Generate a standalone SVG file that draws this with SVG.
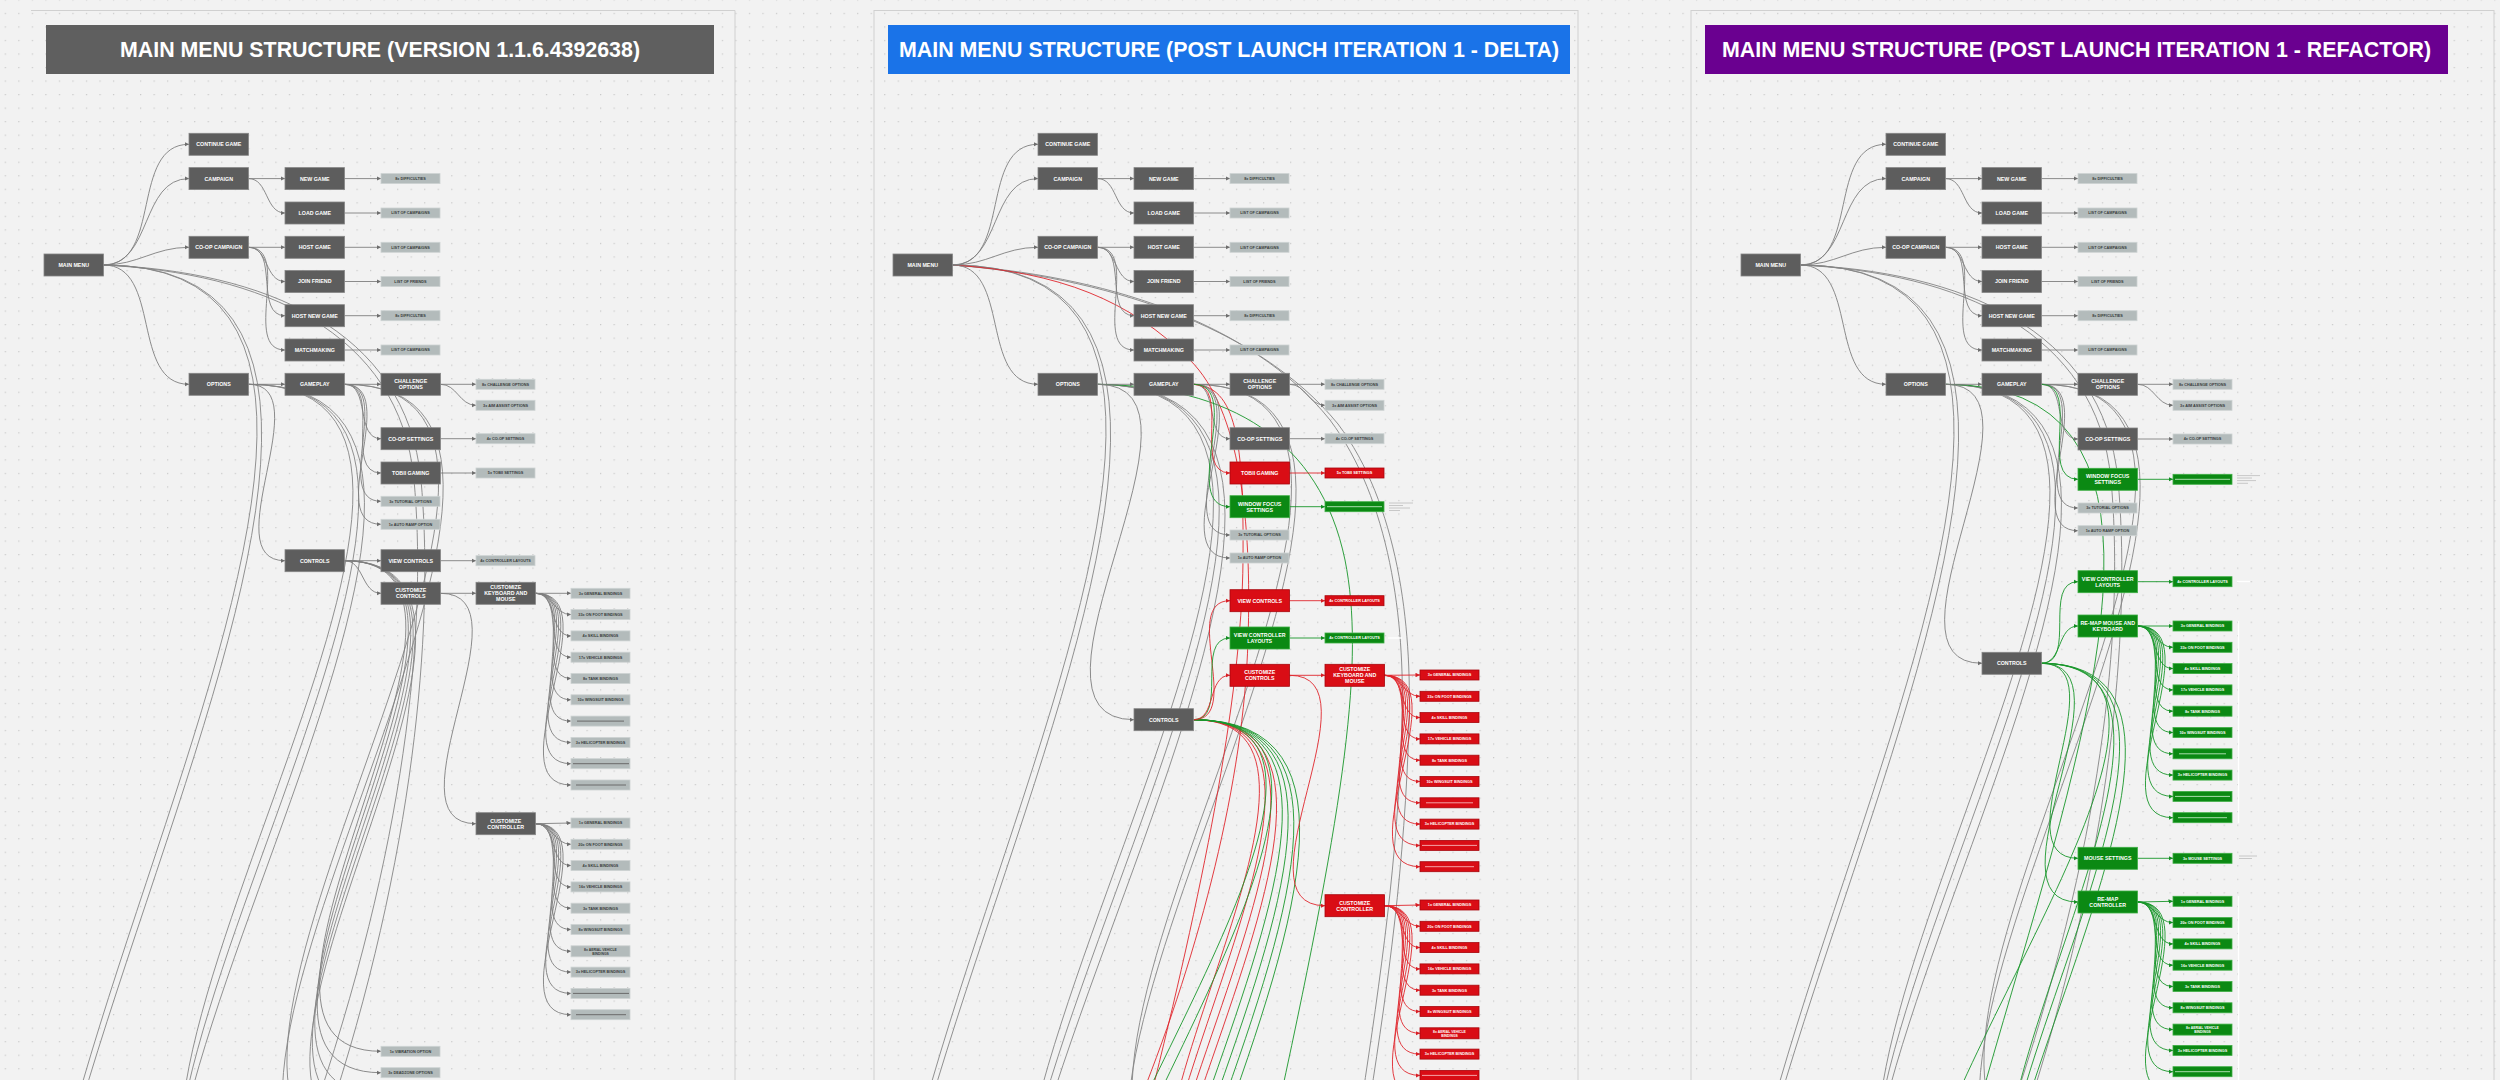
<svg xmlns="http://www.w3.org/2000/svg" width="2500" height="1080" viewBox="0 0 2500 1080">
<defs>
<pattern id="dots" x="4.7" y="-0.7" width="13.53" height="13.53" patternUnits="userSpaceOnUse"><circle cx="0.7" cy="0.7" r="0.6" fill="#b9b9b9"/></pattern>
<marker id="mk" viewBox="0 0 6 6" refX="6" refY="3" markerWidth="4.5" markerHeight="4.5" markerUnits="userSpaceOnUse" orient="auto"><path d="M0 0L6 3L0 6z" fill="#6e6e6e"/></marker>
<marker id="mkr" viewBox="0 0 6 6" refX="6" refY="3" markerWidth="4.5" markerHeight="4.5" markerUnits="userSpaceOnUse" orient="auto"><path d="M0 0L6 3L0 6z" fill="#d81e25"/></marker>
<marker id="mkg" viewBox="0 0 6 6" refX="6" refY="3" markerWidth="4.5" markerHeight="4.5" markerUnits="userSpaceOnUse" orient="auto"><path d="M0 0L6 3L0 6z" fill="#138d22"/></marker>
<style>
.t{font-family:"Liberation Sans",Arial,sans-serif;font-weight:700;font-size:5.3px;fill:#fff;text-anchor:middle}
.l{font-family:"Liberation Sans",Arial,sans-serif;font-weight:700;font-size:3.8px;fill:#383c3c;text-anchor:middle}
.lw{font-family:"Liberation Sans",Arial,sans-serif;font-weight:700;font-size:3.8px;fill:#fff;text-anchor:middle}
.s{font-size:3.4px}
.ttl{font-family:"Liberation Sans",Arial,sans-serif;font-weight:700;font-size:21.5px;fill:#fff;text-anchor:middle}
.dk{fill:#5d5d5d;stroke:#858585;stroke-width:.8}
.lf{fill:#b3bbbb;stroke:#cdd3d3;stroke-width:.8}
.rd{fill:#d90d15;stroke:#a8070d;stroke-width:.8}
.gn{fill:#0b8913;stroke:#3fae45;stroke-width:.8}
.bl{stroke:#6b6b6b;stroke-width:1}
.blr{stroke:#f3a3a6;stroke-width:1}
.blg{stroke:#a9dcac;stroke-width:1}
#connectors path{fill:none;stroke-width:.9}
.e{stroke:#7f7f7f;marker-end:url(#mk)}
.er{stroke:#e0262d;marker-end:url(#mkr)}
.eg{stroke:#18962a;marker-end:url(#mkg)}
.x{stroke:#858585}
.xr{stroke:#e0262d}
.xg{stroke:#18962a}
.frame{fill:none;stroke:#d0d0d0;stroke-width:1}
.note{stroke:#bdbdbd;stroke-width:.8}
.wl{stroke:#ffffff;stroke-width:1.4}
</style>
</defs>
<rect width="2500" height="1080" fill="#f2f2f2"/>
<rect width="2500" height="1080" fill="url(#dots)"/>
<path class="frame" d="M31 10.5H735V1080"/>
<rect class="frame" x="874" y="10.5" width="704" height="1080"/>
<rect class="frame" x="1691" y="10.5" width="803" height="1080"/>

<g id="title-1"><rect x="46" y="25" width="668" height="49" fill="#5f5f5f"/><text class="ttl" x="380" y="57.3" textLength="520" lengthAdjust="spacingAndGlyphs">MAIN MENU STRUCTURE (VERSION 1.1.6.4392638)</text></g>
<g id="title-2"><rect x="888" y="25" width="682" height="49" fill="#1a73e8"/><text class="ttl" x="1229" y="57.3" textLength="660" lengthAdjust="spacingAndGlyphs">MAIN MENU STRUCTURE (POST LAUNCH ITERATION 1 - DELTA)</text></g>
<g id="title-3"><rect x="1705" y="25" width="743" height="49" fill="#6a0090"/><text class="ttl" x="2076.5" y="57.3" textLength="709" lengthAdjust="spacingAndGlyphs">MAIN MENU STRUCTURE (POST LAUNCH ITERATION 1 - REFACTOR)</text></g>

<g id="connectors">
<!-- panel 1 -->
<path class="x" d="M344.5 560.7C558.3 560.7 167.2 1094 381 1094"/>
<path class="x" d="M344.5 560.7C566.8 560.7 158.7 1115.3 381 1115.3"/>
<path class="x" d="M344.5 560.7C575.3 560.7 150.2 1136.6 381 1136.6"/>
<path class="x" d="M103.5 265C598.5 265 -306 1500 189 1500"/>
<path class="x" d="M103.5 265C614.5 265 -322 1540 189 1540"/>
<path class="x" d="M248.5 384.3C595.1 384.3 -61.6 1250 285 1250"/>
<path class="x" d="M248.5 384.3C615 384.3 -81.5 1300 285 1300"/>
<path class="x" d="M248.5 384.3C635 384.3 -101.5 1350 285 1350"/>
<path class="x" d="M344.5 384.3C655.1 384.3 70.4 1160 381 1160"/>
<path class="x" d="M344.5 384.3C671 384.3 54.5 1200 381 1200"/>
<path class="x" d="M103.5 265C260 273 400 330 414 480C426 610 412 820 318 1100"/>
<path class="x" d="M103.5 265C262 271 406 328 421 480C433 610 420 830 334 1100"/>
<path class="e" d="M103.5 265C162.7 265 129.8 144.3 189 144.3"/>
<path class="e" d="M103.5 265C152.1 265 140.4 178.6 189 178.6"/>
<path class="e" d="M103.5 265C138.4 265 154.1 247.3 189 247.3"/>
<path class="e" d="M103.5 265C162.2 265 130.3 384.3 189 384.3"/>
<path class="e" d="M248.5 178.6H285"/>
<path class="e" d="M248.5 178.6C268.5 178.6 265 213 285 213"/>
<path class="e" d="M248.5 247.3H285"/>
<path class="e" d="M248.5 247.3C268.5 247.3 265 281.5 285 281.5"/>
<path class="e" d="M248.5 247.3C279.5 247.3 254 315.7 285 315.7"/>
<path class="e" d="M248.5 247.3C292.1 247.3 241.4 350 285 350"/>
<path class="e" d="M344.5 178.6H381"/><path class="e" d="M344.5 213H381"/><path class="e" d="M344.5 247.3H381"/><path class="e" d="M344.5 281.5H381"/><path class="e" d="M344.5 315.7H381"/><path class="e" d="M344.5 350H381"/>
<path class="e" d="M248.5 384.3H285"/>
<path class="e" d="M248.5 384.3C320.5 384.3 213 560.7 285 560.7"/>
<path class="e" d="M344.5 384.3H381"/>
<path class="e" d="M344.5 384.3C370.7 384.3 354.8 438.7 381 438.7"/>
<path class="e" d="M344.5 384.3C382.9 384.3 342.6 473 381 473"/>
<path class="e" d="M344.5 384.3C393.5 384.3 332 501.3 381 501.3"/>
<path class="e" d="M344.5 384.3C402.4 384.3 323.1 524.3 381 524.3"/>
<path class="e" d="M440.5 384.3H476"/>
<path class="e" d="M440.5 384.3C457 384.3 459.5 405.3 476 405.3"/>
<path class="e" d="M440.5 438.7H476"/>
<path class="e" d="M440.5 473H476"/>
<path class="e" d="M344.5 560.7H381"/>
<path class="e" d="M344.5 560.7C364.1 560.7 361.4 593.3 381 593.3"/>
<path class="e" d="M440.5 560.7H476"/>
<path class="e" d="M440.5 593.3H476"/>
<path class="e" d="M440.5 593.3C533.5 593.3 383 823.7 476 823.7"/>
<path class="e" d="M535.5 593.3H571"/>
<path class="e" d="M535.5 593.3C552.1 593.3 554.4 614.6 571 614.6"/>
<path class="e" d="M535.5 593.3C557.7 593.3 548.8 635.9 571 635.9"/>
<path class="e" d="M535.5 593.3C564.7 593.3 541.8 657.2 571 657.2"/>
<path class="e" d="M535.5 593.3C572.4 593.3 534.1 678.5 571 678.5"/>
<path class="e" d="M535.5 593.3C580.4 593.3 526.1 699.8 571 699.8"/>
<path class="e" d="M535.5 593.3C588.5 593.3 518 721.1 571 721.1"/>
<path class="e" d="M535.5 593.3C596.8 593.3 509.7 742.4 571 742.4"/>
<path class="e" d="M535.5 593.3C605.1 593.3 501.4 763.7 571 763.7"/>
<path class="e" d="M535.5 593.3C613.5 593.3 493 785 571 785"/>
<path class="e" d="M535.5 823.7L571 823"/>
<path class="e" d="M535.5 823.7C552.1 823.7 554.4 844.3 571 844.3"/>
<path class="e" d="M535.5 823.7C557.7 823.7 548.8 865.6 571 865.6"/>
<path class="e" d="M535.5 823.7C564.7 823.7 541.8 886.9 571 886.9"/>
<path class="e" d="M535.5 823.7C572.4 823.7 534.1 908.2 571 908.2"/>
<path class="e" d="M535.5 823.7C580.4 823.7 526.1 929.5 571 929.5"/>
<path class="e" d="M535.5 823.7C588.5 823.7 518 951.3 571 951.3"/>
<path class="e" d="M535.5 823.7C596.8 823.7 509.7 972.1 571 972.1"/>
<path class="e" d="M535.5 823.7C605.1 823.7 501.4 993.4 571 993.4"/>
<path class="e" d="M535.5 823.7C613.5 823.7 493 1014.7 571 1014.7"/>
<path class="e" d="M344.5 560.7C541.3 560.7 184.2 1051.3 381 1051.3"/>
<path class="e" d="M344.5 560.7C549.8 560.7 175.7 1072.7 381 1072.7"/>
<!-- panel 2 -->
<path class="x" d="M952.5 265C1447.5 265 543 1500 1038 1500"/>
<path class="x" d="M952.5 265C1463.5 265 527 1540 1038 1540"/>
<path class="x" d="M1097.5 384.3C1484 384.3 747.5 1350 1134 1350"/>
<path class="x" d="M1097.5 384.3C1504 384.3 727.5 1400 1134 1400"/>
<path class="x" d="M1097.5 384.3C1524.1 384.3 707.4 1450 1134 1450"/>
<path class="x" d="M1193.5 384.3C1517.7 384.3 905.8 1194 1230 1194"/>
<path class="x" d="M1193.5 384.3C1533.5 384.3 890 1234 1230 1234"/>
<path class="x" d="M952.5 265C1100 275 1250 320 1330 420C1390 500 1405 620 1402 720C1398 860 1380 980 1362 1100"/>
<path class="x" d="M952.5 265C1102 277 1256 324 1338 424C1398 504 1412 624 1409 724C1405 864 1388 984 1370 1100"/>
<path class="xr" d="M952.5 265C1060 272 1130 300 1190 360C1240 410 1252 520 1248 640C1244 780 1200 950 1140 1100"/>
<path class="xr" d="M1193.5 384.3C1236 386 1244 440 1243 560C1242 700 1200 900 1150 1100"/>
<path class="xr" d="M1193.5 719.7C1406.1 719.7 1017.4 1250 1230 1250"/>
<path class="xr" d="M1193.5 719.7C1426 719.7 997.5 1300 1230 1300"/>
<path class="xr" d="M1193.5 719.7C1446.1 719.7 977.4 1350 1230 1350"/>
<path class="xr" d="M1193.5 719.7C1465.8 719.7 957.7 1400 1230 1400"/>
<path class="xg" d="M1097.5 384.3C1230 386 1320 440 1345 560C1365 660 1345 800 1280 1100"/>
<path class="xg" d="M1193.5 719.7C1485.8 719.7 937.7 1450 1230 1450"/>
<path class="xg" d="M1193.5 719.7C1506 719.7 917.5 1500 1230 1500"/>
<path class="xg" d="M1193.5 719.7C1525.8 719.7 897.7 1550 1230 1550"/>
<path class="xg" d="M1193.5 719.7C1545.8 719.7 877.7 1600 1230 1600"/>
<path class="xg" d="M1193.5 719.7C1466.7 719.7 860.8 1400 1134 1400"/>
<path class="xg" d="M1193.5 719.7C1486.5 719.7 841 1450 1134 1450"/>
<path class="e" d="M952.5 265C1011.7 265 978.8 144.3 1038 144.3"/>
<path class="e" d="M952.5 265C1001.1 265 989.4 178.6 1038 178.6"/>
<path class="e" d="M952.5 265C987.4 265 1003.1 247.3 1038 247.3"/>
<path class="e" d="M952.5 265C1011.2 265 979.3 384.3 1038 384.3"/>
<path class="e" d="M1097.5 178.6H1134"/>
<path class="e" d="M1097.5 178.6C1117.5 178.6 1114 213 1134 213"/>
<path class="e" d="M1097.5 247.3H1134"/>
<path class="e" d="M1097.5 247.3C1117.5 247.3 1114 281.5 1134 281.5"/>
<path class="e" d="M1097.5 247.3C1128.5 247.3 1103 315.7 1134 315.7"/>
<path class="e" d="M1097.5 247.3C1141.1 247.3 1090.4 350 1134 350"/>
<path class="e" d="M1193.5 178.6H1230"/><path class="e" d="M1193.5 213H1230"/><path class="e" d="M1193.5 247.3H1230"/><path class="e" d="M1193.5 281.5H1230"/><path class="e" d="M1193.5 315.7H1230"/><path class="e" d="M1193.5 350H1230"/>
<path class="e" d="M1097.5 384.3H1134"/>
<path class="e" d="M1097.5 384.3C1232.5 384.3 999 719.7 1134 719.7"/>
<path class="e" d="M1193.5 384.3H1230"/>
<path class="e" d="M1193.5 384.3C1219.7 384.3 1203.8 438.7 1230 438.7"/>
<path class="e" d="M1193.5 384.3C1255.5 384.3 1168 535 1230 535"/>
<path class="e" d="M1193.5 384.3C1264.5 384.3 1159 558 1230 558"/>
<path class="e" d="M1289.5 384.3H1325"/>
<path class="e" d="M1289.5 384.3C1306 384.3 1308.5 405.3 1325 405.3"/>
<path class="e" d="M1289.5 438.7H1325"/>
<path class="er" d="M1193.5 384.3C1231.9 384.3 1191.6 473 1230 473"/>
<path class="er" d="M1289.5 473H1325"/>
<path class="eg" d="M1193.5 384.3C1244.6 384.3 1178.9 506.7 1230 506.7"/>
<path class="eg" d="M1289.5 506.7H1325"/>
<path class="er" d="M1193.5 719.7C1243.3 719.7 1180.2 600.7 1230 600.7"/>
<path class="eg" d="M1193.5 719.7C1229.3 719.7 1194.2 638 1230 638"/>
<path class="er" d="M1193.5 719.7C1216.5 719.7 1207 675.3 1230 675.3"/>
<path class="er" d="M1289.5 600.7H1325"/>
<path class="eg" d="M1289.5 638H1325"/>
<path class="er" d="M1289.5 675.3H1325"/>
<path class="er" d="M1289.5 675.3C1382.8 675.3 1231.7 905.7 1325 905.7"/>
<path class="er" d="M1384.5 675.3L1420 675"/>
<path class="er" d="M1384.5 675.3C1401.1 675.3 1403.4 696.3 1420 696.3"/>
<path class="er" d="M1384.5 675.3C1406.7 675.3 1397.8 717.6 1420 717.6"/>
<path class="er" d="M1384.5 675.3C1413.7 675.3 1390.8 738.9 1420 738.9"/>
<path class="er" d="M1384.5 675.3C1421.4 675.3 1383.1 760.2 1420 760.2"/>
<path class="er" d="M1384.5 675.3C1429.4 675.3 1375.1 781.5 1420 781.5"/>
<path class="er" d="M1384.5 675.3C1437.5 675.3 1367 802.8 1420 802.8"/>
<path class="er" d="M1384.5 675.3C1445.8 675.3 1358.7 824.1 1420 824.1"/>
<path class="er" d="M1384.5 675.3C1454.1 675.3 1350.4 845.4 1420 845.4"/>
<path class="er" d="M1384.5 675.3C1462.5 675.3 1342 866.7 1420 866.7"/>
<path class="er" d="M1384.5 905.7L1420 905"/>
<path class="er" d="M1384.5 905.7C1401.1 905.7 1403.4 926.3 1420 926.3"/>
<path class="er" d="M1384.5 905.7C1406.7 905.7 1397.8 947.6 1420 947.6"/>
<path class="er" d="M1384.5 905.7C1413.7 905.7 1390.8 968.9 1420 968.9"/>
<path class="er" d="M1384.5 905.7C1421.4 905.7 1383.1 990.2 1420 990.2"/>
<path class="er" d="M1384.5 905.7C1429.4 905.7 1375.1 1011.5 1420 1011.5"/>
<path class="er" d="M1384.5 905.7C1437.5 905.7 1367 1033.3 1420 1033.3"/>
<path class="er" d="M1384.5 905.7C1445.8 905.7 1358.7 1054.1 1420 1054.1"/>
<path class="er" d="M1384.5 905.7C1454.1 905.7 1350.4 1075.4 1420 1075.4"/>
<path class="xr" d="M1384.5 905.7C1462.5 905.7 1342 1096.7 1420 1096.7"/>
<!-- panel 3 -->
<path class="x" d="M1800.5 265C2295.5 265 1391 1500 1886 1500"/>
<path class="x" d="M1800.5 265C2311.5 265 1375 1540 1886 1540"/>
<path class="x" d="M1945.5 384.3C2292.1 384.3 1635.4 1250 1982 1250"/>
<path class="x" d="M1945.5 384.3C2312 384.3 1615.5 1300 1982 1300"/>
<path class="x" d="M1945.5 384.3C2332 384.3 1595.5 1350 1982 1350"/>
<path class="x" d="M2041.5 384.3C2352.1 384.3 1767.4 1160 2078 1160"/>
<path class="x" d="M2041.5 384.3C2368 384.3 1751.5 1200 2078 1200"/>
<path class="x" d="M1800.5 265C1957 273 2097 330 2111 480C2123 610 2109 820 2015 1100"/>
<path class="x" d="M1800.5 265C1959 271 2103 328 2118 480C2130 610 2117 830 2031 1100"/>
<path class="xg" d="M1945.5 384.3C2434.7 384.3 1588.8 1600 2078 1600"/>
<path class="xg" d="M2041.5 663.3C2276.6 663.3 1842.9 1250 2078 1250"/>
<path class="xg" d="M2041.5 663.3C2296.6 663.3 1822.9 1300 2078 1300"/>
<path class="xg" d="M2041.5 663.3C2316.5 663.3 1803 1350 2078 1350"/>
<path class="xg" d="M2041.5 663.3C2297.3 663.3 1726.2 1300 1982 1300"/>
<path class="e" d="M1800.5 265C1859.7 265 1826.8 144.3 1886 144.3"/>
<path class="e" d="M1800.5 265C1849.1 265 1837.4 178.6 1886 178.6"/>
<path class="e" d="M1800.5 265C1835.4 265 1851.1 247.3 1886 247.3"/>
<path class="e" d="M1800.5 265C1859.2 265 1827.3 384.3 1886 384.3"/>
<path class="e" d="M1945.5 178.6H1982"/>
<path class="e" d="M1945.5 178.6C1965.5 178.6 1962 213 1982 213"/>
<path class="e" d="M1945.5 247.3H1982"/>
<path class="e" d="M1945.5 247.3C1965.5 247.3 1962 281.5 1982 281.5"/>
<path class="e" d="M1945.5 247.3C1976.5 247.3 1951 315.7 1982 315.7"/>
<path class="e" d="M1945.5 247.3C1989.1 247.3 1938.4 350 1982 350"/>
<path class="e" d="M2041.5 178.6H2078"/><path class="e" d="M2041.5 213H2078"/><path class="e" d="M2041.5 247.3H2078"/><path class="e" d="M2041.5 281.5H2078"/><path class="e" d="M2041.5 315.7H2078"/><path class="e" d="M2041.5 350H2078"/>
<path class="e" d="M1945.5 384.3H1982"/>
<path class="e" d="M1945.5 384.3C2058.1 384.3 1869.4 663.3 1982 663.3"/>
<path class="e" d="M2041.5 384.3H2078"/>
<path class="e" d="M2041.5 384.3C2067.7 384.3 2051.8 439 2078 439"/>
<path class="e" d="M2041.5 384.3C2093.1 384.3 2026.4 508 2078 508"/>
<path class="e" d="M2041.5 384.3C2101.9 384.3 2017.6 530.7 2078 530.7"/>
<path class="e" d="M2137.5 384.3H2173"/>
<path class="e" d="M2137.5 384.3C2154 384.3 2156.5 405.3 2173 405.3"/>
<path class="e" d="M2137.5 439H2173"/>
<path class="eg" d="M2041.5 384.3C2082.2 384.3 2037.3 479.3 2078 479.3"/>
<path class="eg" d="M2137.5 479.3H2173"/>
<path class="eg" d="M2041.5 663.3C2077.3 663.3 2042.2 581.7 2078 581.7"/>
<path class="eg" d="M2137.5 581.7H2173"/>
<path class="eg" d="M2041.5 663.3C2062.4 663.3 2057.1 626 2078 626"/>
<path class="eg" d="M2041.5 663.3C2120.9 663.3 1998.6 858.3 2078 858.3"/>
<path class="eg" d="M2041.5 663.3C2138.1 663.3 1981.4 902 2078 902"/>
<path class="eg" d="M2137.5 858.3H2173"/>
<path class="eg" d="M2137.5 626H2173"/>
<path class="eg" d="M2137.5 626C2154.1 626 2156.4 647.3 2173 647.3"/>
<path class="eg" d="M2137.5 626C2159.7 626 2150.8 668.6 2173 668.6"/>
<path class="eg" d="M2137.5 626C2166.7 626 2143.8 689.9 2173 689.9"/>
<path class="eg" d="M2137.5 626C2174.4 626 2136.1 711.2 2173 711.2"/>
<path class="eg" d="M2137.5 626C2182.4 626 2128.1 732.5 2173 732.5"/>
<path class="eg" d="M2137.5 626C2190.5 626 2120 753.8 2173 753.8"/>
<path class="eg" d="M2137.5 626C2198.8 626 2111.7 775.1 2173 775.1"/>
<path class="eg" d="M2137.5 626C2207.1 626 2103.4 796.4 2173 796.4"/>
<path class="eg" d="M2137.5 626C2215.5 626 2095 817.7 2173 817.7"/>
<path class="eg" d="M2137.5 902L2173 901.3"/>
<path class="eg" d="M2137.5 902C2154.1 902 2156.4 922.6 2173 922.6"/>
<path class="eg" d="M2137.5 902C2159.7 902 2150.8 943.9 2173 943.9"/>
<path class="eg" d="M2137.5 902C2166.7 902 2143.8 965.2 2173 965.2"/>
<path class="eg" d="M2137.5 902C2174.4 902 2136.1 986.5 2173 986.5"/>
<path class="eg" d="M2137.5 902C2182.4 902 2128.1 1007.8 2173 1007.8"/>
<path class="eg" d="M2137.5 902C2190.5 902 2120 1029.6 2173 1029.6"/>
<path class="eg" d="M2137.5 902C2198.8 902 2111.7 1050.4 2173 1050.4"/>
<path class="eg" d="M2137.5 902C2207.1 902 2103.4 1071.7 2173 1071.7"/>
<path class="xg" d="M2137.5 902C2215.5 902 2095 1093 2173 1093"/>
</g>

<!-- ============ PANEL 1 NODES ============ -->
<g id="p1-main-menu"><rect class="dk" x="44" y="254" width="59.5" height="22"/><text class="t" x="73.75" y="266.9">MAIN MENU</text></g>
<g id="p1-continue-game"><rect class="dk" x="189" y="133.3" width="59.5" height="22"/><text class="t" x="218.75" y="146.2">CONTINUE GAME</text></g>
<g id="p1-campaign"><rect class="dk" x="189" y="167.6" width="59.5" height="22"/><text class="t" x="218.75" y="180.5">CAMPAIGN</text></g>
<g id="p1-new-game"><rect class="dk" x="285" y="167.6" width="59.5" height="22"/><text class="t" x="314.75" y="180.5">NEW GAME</text></g>
<g id="p1-load-game"><rect class="dk" x="285" y="202" width="59.5" height="22"/><text class="t" x="314.75" y="214.9">LOAD GAME</text></g>
<g id="p1-coop-campaign"><rect class="dk" x="189" y="236.3" width="59.5" height="22"/><text class="t" x="218.75" y="249.2">CO-OP CAMPAIGN</text></g>
<g id="p1-host-game"><rect class="dk" x="285" y="236.3" width="59.5" height="22"/><text class="t" x="314.75" y="249.2">HOST GAME</text></g>
<g id="p1-join-friend"><rect class="dk" x="285" y="270.5" width="59.5" height="22"/><text class="t" x="314.75" y="283.4">JOIN FRIEND</text></g>
<g id="p1-host-new-game"><rect class="dk" x="285" y="304.7" width="59.5" height="22"/><text class="t" x="314.75" y="317.6">HOST NEW GAME</text></g>
<g id="p1-matchmaking"><rect class="dk" x="285" y="339" width="59.5" height="22"/><text class="t" x="314.75" y="351.9">MATCHMAKING</text></g>
<g id="p1-options"><rect class="dk" x="189" y="373.3" width="59.5" height="22"/><text class="t" x="218.75" y="386.2">OPTIONS</text></g>
<g id="p1-gameplay"><rect class="dk" x="285" y="373.3" width="59.5" height="22"/><text class="t" x="314.75" y="386.2">GAMEPLAY</text></g>
<g id="p1-challenge-options"><rect class="dk" x="381" y="373.3" width="59.5" height="22"/><text class="t" x="410.75" y="383.2">CHALLENGE</text><text class="t" x="410.75" y="389.2">OPTIONS</text></g>
<g id="p1-coop-settings"><rect class="dk" x="381" y="427.7" width="59.5" height="22"/><text class="t" x="410.75" y="440.6">CO-OP SETTINGS</text></g>
<g id="p1-tobii-gaming"><rect class="dk" x="381" y="462" width="59.5" height="22"/><text class="t" x="410.75" y="474.9">TOBII GAMING</text></g>
<g id="p1-controls"><rect class="dk" x="285" y="549.7" width="59.5" height="22"/><text class="t" x="314.75" y="562.6">CONTROLS</text></g>
<g id="p1-view-controls"><rect class="dk" x="381" y="549.7" width="59.5" height="22"/><text class="t" x="410.75" y="562.6">VIEW CONTROLS</text></g>
<g id="p1-customize-controls"><rect class="dk" x="381" y="582.3" width="59.5" height="22"/><text class="t" x="410.75" y="592.2">CUSTOMIZE</text><text class="t" x="410.75" y="598.2">CONTROLS</text></g>
<g id="p1-customize-kbm"><rect class="dk" x="476" y="582.3" width="59.5" height="22"/><text class="t" x="505.75" y="589.2">CUSTOMIZE</text><text class="t" x="505.75" y="595.2">KEYBOARD AND</text><text class="t" x="505.75" y="601.2">MOUSE</text></g>
<g id="p1-customize-controller"><rect class="dk" x="476" y="812.7" width="59.5" height="22"/><text class="t" x="505.75" y="822.6">CUSTOMIZE</text><text class="t" x="505.75" y="828.6">CONTROLLER</text></g>
<g id="p1-leaf-new-game"><rect class="lf" x="381" y="173.6" width="59" height="10"/><text class="l" x="410.5" y="179.95">8x DIFFICULTIES</text></g>
<g id="p1-leaf-load-game"><rect class="lf" x="381" y="208" width="59" height="10"/><text class="l" x="410.5" y="214.35">LIST OF CAMPAIGNS</text></g>
<g id="p1-leaf-host-game"><rect class="lf" x="381" y="242.3" width="59" height="10"/><text class="l" x="410.5" y="248.65">LIST OF CAMPAIGNS</text></g>
<g id="p1-leaf-join-friend"><rect class="lf" x="381" y="276.5" width="59" height="10"/><text class="l" x="410.5" y="282.85">LIST OF FRIENDS</text></g>
<g id="p1-leaf-host-new-game"><rect class="lf" x="381" y="310.7" width="59" height="10"/><text class="l" x="410.5" y="317.05">8x DIFFICULTIES</text></g>
<g id="p1-leaf-matchmaking"><rect class="lf" x="381" y="345" width="59" height="10"/><text class="l" x="410.5" y="351.35">LIST OF CAMPAIGNS</text></g>
<g id="p1-leaf-challenge"><rect class="lf" x="476" y="379.3" width="59" height="10"/><text class="l" x="505.5" y="385.65">8x CHALLENGE OPTIONS</text></g>
<g id="p1-leaf-aim-assist"><rect class="lf" x="476" y="400.3" width="59" height="10"/><text class="l" x="505.5" y="406.65">3x AIM ASSIST OPTIONS</text></g>
<g id="p1-leaf-coop-settings"><rect class="lf" x="476" y="433.7" width="59" height="10"/><text class="l" x="505.5" y="440.05">4x CO-OP SETTINGS</text></g>
<g id="p1-leaf-tobii"><rect class="lf" x="476" y="468" width="59" height="10"/><text class="l" x="505.5" y="474.35">5x TOBII SETTINGS</text></g>
<g id="p1-leaf-tutorial"><rect class="lf" x="381" y="496.3" width="59" height="10"/><text class="l" x="410.5" y="502.65">3x TUTORIAL OPTIONS</text></g>
<g id="p1-leaf-auto-ramp"><rect class="lf" x="381" y="519.3" width="59" height="10"/><text class="l" x="410.5" y="525.65">1x AUTO RAMP OPTION</text></g>
<g id="p1-leaf-layouts"><rect class="lf" x="476" y="555.7" width="59" height="10"/><text class="l" x="505.5" y="562.05">4x CONTROLLER LAYOUTS</text></g>
<g id="p1-kb-1"><rect class="lf" x="571" y="588.3" width="59" height="10"/><text class="l" x="600.5" y="594.65">3x GENERAL BINDINGS</text></g>
<g id="p1-kb-2"><rect class="lf" x="571" y="609.6" width="59" height="10"/><text class="l" x="600.5" y="615.95">33x ON FOOT BINDINGS</text></g>
<g id="p1-kb-3"><rect class="lf" x="571" y="630.9" width="59" height="10"/><text class="l" x="600.5" y="637.25">4x SKILL BINDINGS</text></g>
<g id="p1-kb-4"><rect class="lf" x="571" y="652.2" width="59" height="10"/><text class="l" x="600.5" y="658.55">17x VEHICLE BINDINGS</text></g>
<g id="p1-kb-5"><rect class="lf" x="571" y="673.5" width="59" height="10"/><text class="l" x="600.5" y="679.85">8x TANK BINDINGS</text></g>
<g id="p1-kb-6"><rect class="lf" x="571" y="694.8" width="59" height="10"/><text class="l" x="600.5" y="701.15">10x WINGSUIT BINDINGS</text></g>
<g id="p1-kb-7"><rect class="lf" x="571" y="716.1" width="59" height="10"/><path class="bl" d="M577 721.1H624"/></g>
<g id="p1-kb-8"><rect class="lf" x="571" y="737.4" width="59" height="10"/><text class="l" x="600.5" y="743.75">3x HELICOPTER BINDINGS</text></g>
<g id="p1-kb-9"><rect class="lf" x="571" y="758.7" width="59" height="10"/><path class="bl" d="M573 763.7H629"/></g>
<g id="p1-kb-10"><rect class="lf" x="571" y="780" width="59" height="10"/><path class="bl" d="M576 785H626"/></g>
<g id="p1-cc-1"><rect class="lf" x="571" y="818" width="59" height="10"/><text class="l" x="600.5" y="824.35">1x GENERAL BINDINGS</text></g>
<g id="p1-cc-2"><rect class="lf" x="571" y="839.3" width="59" height="10"/><text class="l" x="600.5" y="845.65">20x ON FOOT BINDINGS</text></g>
<g id="p1-cc-3"><rect class="lf" x="571" y="860.6" width="59" height="10"/><text class="l" x="600.5" y="866.95">4x SKILL BINDINGS</text></g>
<g id="p1-cc-4"><rect class="lf" x="571" y="881.9" width="59" height="10"/><text class="l" x="600.5" y="888.25">16x VEHICLE BINDINGS</text></g>
<g id="p1-cc-5"><rect class="lf" x="571" y="903.2" width="59" height="10"/><text class="l" x="600.5" y="909.55">3x TANK BINDINGS</text></g>
<g id="p1-cc-6"><rect class="lf" x="571" y="924.5" width="59" height="10"/><text class="l" x="600.5" y="930.85">8x WINGSUIT BINDINGS</text></g>
<g id="p1-cc-7"><rect class="lf" x="571" y="945.8" width="59" height="11"/><text class="l s" x="600.5" y="950.5">8x AERIAL VEHICLE</text><text class="l s" x="600.5" y="954.7">BINDINGS</text></g>
<g id="p1-cc-8"><rect class="lf" x="571" y="967.1" width="59" height="10"/><text class="l" x="600.5" y="973.45">3x HELICOPTER BINDINGS</text></g>
<g id="p1-cc-9"><rect class="lf" x="571" y="988.4" width="59" height="10"/><path class="bl" d="M573 993.4H629"/></g>
<g id="p1-cc-10"><rect class="lf" x="571" y="1009.7" width="59" height="10"/><path class="bl" d="M576 1014.7H626"/></g>
<g id="p1-leaf-vibration"><rect class="lf" x="381" y="1046.3" width="59" height="10"/><text class="l" x="410.5" y="1052.65">1x VIBRATION OPTION</text></g>
<g id="p1-leaf-deadzone"><rect class="lf" x="381" y="1067.7" width="59" height="10"/><text class="l" x="410.5" y="1074.05">3x DEADZONE OPTIONS</text></g>

<!-- ============ PANEL 2 NODES ============ -->
<g id="p2-main-menu"><rect class="dk" x="893" y="254" width="59.5" height="22"/><text class="t" x="922.75" y="266.9">MAIN MENU</text></g>
<g id="p2-continue-game"><rect class="dk" x="1038" y="133.3" width="59.5" height="22"/><text class="t" x="1067.75" y="146.2">CONTINUE GAME</text></g>
<g id="p2-campaign"><rect class="dk" x="1038" y="167.6" width="59.5" height="22"/><text class="t" x="1067.75" y="180.5">CAMPAIGN</text></g>
<g id="p2-new-game"><rect class="dk" x="1134" y="167.6" width="59.5" height="22"/><text class="t" x="1163.75" y="180.5">NEW GAME</text></g>
<g id="p2-load-game"><rect class="dk" x="1134" y="202" width="59.5" height="22"/><text class="t" x="1163.75" y="214.9">LOAD GAME</text></g>
<g id="p2-coop-campaign"><rect class="dk" x="1038" y="236.3" width="59.5" height="22"/><text class="t" x="1067.75" y="249.2">CO-OP CAMPAIGN</text></g>
<g id="p2-host-game"><rect class="dk" x="1134" y="236.3" width="59.5" height="22"/><text class="t" x="1163.75" y="249.2">HOST GAME</text></g>
<g id="p2-join-friend"><rect class="dk" x="1134" y="270.5" width="59.5" height="22"/><text class="t" x="1163.75" y="283.4">JOIN FRIEND</text></g>
<g id="p2-host-new-game"><rect class="dk" x="1134" y="304.7" width="59.5" height="22"/><text class="t" x="1163.75" y="317.6">HOST NEW GAME</text></g>
<g id="p2-matchmaking"><rect class="dk" x="1134" y="339" width="59.5" height="22"/><text class="t" x="1163.75" y="351.9">MATCHMAKING</text></g>
<g id="p2-options"><rect class="dk" x="1038" y="373.3" width="59.5" height="22"/><text class="t" x="1067.75" y="386.2">OPTIONS</text></g>
<g id="p2-gameplay"><rect class="dk" x="1134" y="373.3" width="59.5" height="22"/><text class="t" x="1163.75" y="386.2">GAMEPLAY</text></g>
<g id="p2-challenge-options"><rect class="dk" x="1230" y="373.3" width="59.5" height="22"/><text class="t" x="1259.75" y="383.2">CHALLENGE</text><text class="t" x="1259.75" y="389.2">OPTIONS</text></g>
<g id="p2-coop-settings"><rect class="dk" x="1230" y="427.7" width="59.5" height="22"/><text class="t" x="1259.75" y="440.6">CO-OP SETTINGS</text></g>
<g id="p2-tobii-gaming"><rect class="rd" x="1230" y="462" width="59.5" height="22"/><text class="t" x="1259.75" y="474.9">TOBII GAMING</text></g>
<g id="p2-window-focus"><rect class="gn" x="1230" y="495.7" width="59.5" height="22"/><text class="t" x="1259.75" y="505.6">WINDOW FOCUS</text><text class="t" x="1259.75" y="511.6">SETTINGS</text></g>
<g id="p2-view-controls"><rect class="rd" x="1230" y="589.7" width="59.5" height="22"/><text class="t" x="1259.75" y="602.6">VIEW CONTROLS</text></g>
<g id="p2-view-controller-layouts"><rect class="gn" x="1230" y="627" width="59.5" height="22"/><text class="t" x="1259.75" y="636.9">VIEW CONTROLLER</text><text class="t" x="1259.75" y="642.9">LAYOUTS</text></g>
<g id="p2-customize-controls"><rect class="rd" x="1230" y="664.3" width="59.5" height="22"/><text class="t" x="1259.75" y="674.2">CUSTOMIZE</text><text class="t" x="1259.75" y="680.2">CONTROLS</text></g>
<g id="p2-customize-kbm"><rect class="rd" x="1325" y="664.3" width="59.5" height="22"/><text class="t" x="1354.75" y="671.2">CUSTOMIZE</text><text class="t" x="1354.75" y="677.2">KEYBOARD AND</text><text class="t" x="1354.75" y="683.2">MOUSE</text></g>
<g id="p2-controls"><rect class="dk" x="1134" y="708.7" width="59.5" height="22"/><text class="t" x="1163.75" y="721.6">CONTROLS</text></g>
<g id="p2-customize-controller"><rect class="rd" x="1325" y="894.7" width="59.5" height="22"/><text class="t" x="1354.75" y="904.6">CUSTOMIZE</text><text class="t" x="1354.75" y="910.6">CONTROLLER</text></g>
<g id="p2-leaf-new-game"><rect class="lf" x="1230" y="173.6" width="59" height="10"/><text class="l" x="1259.5" y="179.95">8x DIFFICULTIES</text></g>
<g id="p2-leaf-load-game"><rect class="lf" x="1230" y="208" width="59" height="10"/><text class="l" x="1259.5" y="214.35">LIST OF CAMPAIGNS</text></g>
<g id="p2-leaf-host-game"><rect class="lf" x="1230" y="242.3" width="59" height="10"/><text class="l" x="1259.5" y="248.65">LIST OF CAMPAIGNS</text></g>
<g id="p2-leaf-join-friend"><rect class="lf" x="1230" y="276.5" width="59" height="10"/><text class="l" x="1259.5" y="282.85">LIST OF FRIENDS</text></g>
<g id="p2-leaf-host-new-game"><rect class="lf" x="1230" y="310.7" width="59" height="10"/><text class="l" x="1259.5" y="317.05">8x DIFFICULTIES</text></g>
<g id="p2-leaf-matchmaking"><rect class="lf" x="1230" y="345" width="59" height="10"/><text class="l" x="1259.5" y="351.35">LIST OF CAMPAIGNS</text></g>
<g id="p2-leaf-challenge"><rect class="lf" x="1325" y="379.3" width="59" height="10"/><text class="l" x="1354.5" y="385.65">8x CHALLENGE OPTIONS</text></g>
<g id="p2-leaf-aim-assist"><rect class="lf" x="1325" y="400.3" width="59" height="10"/><text class="l" x="1354.5" y="406.65">3x AIM ASSIST OPTIONS</text></g>
<g id="p2-leaf-coop-settings"><rect class="lf" x="1325" y="433.7" width="59" height="10"/><text class="l" x="1354.5" y="440.05">4x CO-OP SETTINGS</text></g>
<g id="p2-leaf-tobii"><rect class="rd" x="1325" y="468" width="59" height="10"/><text class="lw" x="1354.5" y="474.35">5x TOBII SETTINGS</text></g>
<g id="p2-leaf-window-focus"><rect class="gn" x="1325" y="501.7" width="59" height="10"/><path class="blg" d="M1327 506.7H1382"/><path class="note" d="M1389 503H1413M1389 505.5H1403M1389 508H1410M1389 510.5H1400"/></g>
<g id="p2-leaf-tutorial"><rect class="lf" x="1230" y="530" width="59" height="10"/><text class="l" x="1259.5" y="536.35">3x TUTORIAL OPTIONS</text></g>
<g id="p2-leaf-auto-ramp"><rect class="lf" x="1230" y="553" width="59" height="10"/><text class="l" x="1259.5" y="559.35">1x AUTO RAMP OPTION</text></g>
<g id="p2-leaf-view-controls"><rect class="rd" x="1325" y="595.7" width="59" height="10"/><text class="lw" x="1354.5" y="602.05">4x CONTROLLER LAYOUTS</text></g>
<g id="p2-leaf-controller-layouts"><rect class="gn" x="1325" y="633" width="59" height="10"/><text class="lw" x="1354.5" y="639.35">4x CONTROLLER LAYOUTS</text><path class="wl" d="M1388 638H1402"/></g>
<g id="p2-kb-1"><rect class="rd" x="1420" y="670" width="59" height="10"/><text class="lw" x="1449.5" y="676.35">3x GENERAL BINDINGS</text></g>
<g id="p2-kb-2"><rect class="rd" x="1420" y="691.3" width="59" height="10"/><text class="lw" x="1449.5" y="697.65">33x ON FOOT BINDINGS</text></g>
<g id="p2-kb-3"><rect class="rd" x="1420" y="712.6" width="59" height="10"/><text class="lw" x="1449.5" y="718.95">4x SKILL BINDINGS</text></g>
<g id="p2-kb-4"><rect class="rd" x="1420" y="733.9" width="59" height="10"/><text class="lw" x="1449.5" y="740.25">17x VEHICLE BINDINGS</text></g>
<g id="p2-kb-5"><rect class="rd" x="1420" y="755.2" width="59" height="10"/><text class="lw" x="1449.5" y="761.55">8x TANK BINDINGS</text></g>
<g id="p2-kb-6"><rect class="rd" x="1420" y="776.5" width="59" height="10"/><text class="lw" x="1449.5" y="782.85">10x WINGSUIT BINDINGS</text></g>
<g id="p2-kb-7"><rect class="rd" x="1420" y="797.8" width="59" height="10"/><path class="blr" d="M1426 802.8H1473"/></g>
<g id="p2-kb-8"><rect class="rd" x="1420" y="819.1" width="59" height="10"/><text class="lw" x="1449.5" y="825.45">3x HELICOPTER BINDINGS</text></g>
<g id="p2-kb-9"><rect class="rd" x="1420" y="840.4" width="59" height="10"/><path class="blr" d="M1422 845.4H1477"/></g>
<g id="p2-kb-10"><rect class="rd" x="1420" y="861.7" width="59" height="10"/><path class="blr" d="M1425 866.7H1474"/></g>
<g id="p2-cc-1"><rect class="rd" x="1420" y="900" width="59" height="10"/><text class="lw" x="1449.5" y="906.35">1x GENERAL BINDINGS</text></g>
<g id="p2-cc-2"><rect class="rd" x="1420" y="921.3" width="59" height="10"/><text class="lw" x="1449.5" y="927.65">20x ON FOOT BINDINGS</text></g>
<g id="p2-cc-3"><rect class="rd" x="1420" y="942.6" width="59" height="10"/><text class="lw" x="1449.5" y="948.95">4x SKILL BINDINGS</text></g>
<g id="p2-cc-4"><rect class="rd" x="1420" y="963.9" width="59" height="10"/><text class="lw" x="1449.5" y="970.25">16x VEHICLE BINDINGS</text></g>
<g id="p2-cc-5"><rect class="rd" x="1420" y="985.2" width="59" height="10"/><text class="lw" x="1449.5" y="991.55">3x TANK BINDINGS</text></g>
<g id="p2-cc-6"><rect class="rd" x="1420" y="1006.5" width="59" height="10"/><text class="lw" x="1449.5" y="1012.85">8x WINGSUIT BINDINGS</text></g>
<g id="p2-cc-7"><rect class="rd" x="1420" y="1027.8" width="59" height="11"/><text class="lw s" x="1449.5" y="1032.5">8x AERIAL VEHICLE</text><text class="lw s" x="1449.5" y="1036.7">BINDINGS</text></g>
<g id="p2-cc-8"><rect class="rd" x="1420" y="1049.1" width="59" height="10"/><text class="lw" x="1449.5" y="1055.45">3x HELICOPTER BINDINGS</text></g>
<g id="p2-cc-9"><rect class="rd" x="1420" y="1070.4" width="59" height="10"/><path class="blr" d="M1422 1075.4H1477"/></g>

<!-- ============ PANEL 3 NODES ============ -->
<g id="p3-main-menu"><rect class="dk" x="1741" y="254" width="59.5" height="22"/><text class="t" x="1770.75" y="266.9">MAIN MENU</text></g>
<g id="p3-continue-game"><rect class="dk" x="1886" y="133.3" width="59.5" height="22"/><text class="t" x="1915.75" y="146.2">CONTINUE GAME</text></g>
<g id="p3-campaign"><rect class="dk" x="1886" y="167.6" width="59.5" height="22"/><text class="t" x="1915.75" y="180.5">CAMPAIGN</text></g>
<g id="p3-new-game"><rect class="dk" x="1982" y="167.6" width="59.5" height="22"/><text class="t" x="2011.75" y="180.5">NEW GAME</text></g>
<g id="p3-load-game"><rect class="dk" x="1982" y="202" width="59.5" height="22"/><text class="t" x="2011.75" y="214.9">LOAD GAME</text></g>
<g id="p3-coop-campaign"><rect class="dk" x="1886" y="236.3" width="59.5" height="22"/><text class="t" x="1915.75" y="249.2">CO-OP CAMPAIGN</text></g>
<g id="p3-host-game"><rect class="dk" x="1982" y="236.3" width="59.5" height="22"/><text class="t" x="2011.75" y="249.2">HOST GAME</text></g>
<g id="p3-join-friend"><rect class="dk" x="1982" y="270.5" width="59.5" height="22"/><text class="t" x="2011.75" y="283.4">JOIN FRIEND</text></g>
<g id="p3-host-new-game"><rect class="dk" x="1982" y="304.7" width="59.5" height="22"/><text class="t" x="2011.75" y="317.6">HOST NEW GAME</text></g>
<g id="p3-matchmaking"><rect class="dk" x="1982" y="339" width="59.5" height="22"/><text class="t" x="2011.75" y="351.9">MATCHMAKING</text></g>
<g id="p3-options"><rect class="dk" x="1886" y="373.3" width="59.5" height="22"/><text class="t" x="1915.75" y="386.2">OPTIONS</text></g>
<g id="p3-gameplay"><rect class="dk" x="1982" y="373.3" width="59.5" height="22"/><text class="t" x="2011.75" y="386.2">GAMEPLAY</text></g>
<g id="p3-challenge-options"><rect class="dk" x="2078" y="373.3" width="59.5" height="22"/><text class="t" x="2107.75" y="383.2">CHALLENGE</text><text class="t" x="2107.75" y="389.2">OPTIONS</text></g>
<g id="p3-coop-settings"><rect class="dk" x="2078" y="428" width="59.5" height="22"/><text class="t" x="2107.75" y="440.9">CO-OP SETTINGS</text></g>
<g id="p3-window-focus"><rect class="gn" x="2078" y="468.3" width="59.5" height="22"/><text class="t" x="2107.75" y="478.2">WINDOW FOCUS</text><text class="t" x="2107.75" y="484.2">SETTINGS</text></g>
<g id="p3-view-controller-layouts"><rect class="gn" x="2078" y="570.7" width="59.5" height="22"/><text class="t" x="2107.75" y="580.6">VIEW CONTROLLER</text><text class="t" x="2107.75" y="586.6">LAYOUTS</text></g>
<g id="p3-remap-kbm"><rect class="gn" x="2078" y="615" width="59.5" height="22"/><text class="t" x="2107.75" y="624.9">RE-MAP MOUSE AND</text><text class="t" x="2107.75" y="630.9">KEYBOARD</text></g>
<g id="p3-controls"><rect class="dk" x="1982" y="652.3" width="59.5" height="22"/><text class="t" x="2011.75" y="665.2">CONTROLS</text></g>
<g id="p3-mouse-settings"><rect class="gn" x="2078" y="847.3" width="59.5" height="22"/><text class="t" x="2107.75" y="860.2">MOUSE SETTINGS</text></g>
<g id="p3-remap-controller"><rect class="gn" x="2078" y="891" width="59.5" height="22"/><text class="t" x="2107.75" y="900.9">RE-MAP</text><text class="t" x="2107.75" y="906.9">CONTROLLER</text></g>
<g id="p3-leaf-new-game"><rect class="lf" x="2078" y="173.6" width="59" height="10"/><text class="l" x="2107.5" y="179.95">8x DIFFICULTIES</text></g>
<g id="p3-leaf-load-game"><rect class="lf" x="2078" y="208" width="59" height="10"/><text class="l" x="2107.5" y="214.35">LIST OF CAMPAIGNS</text></g>
<g id="p3-leaf-host-game"><rect class="lf" x="2078" y="242.3" width="59" height="10"/><text class="l" x="2107.5" y="248.65">LIST OF CAMPAIGNS</text></g>
<g id="p3-leaf-join-friend"><rect class="lf" x="2078" y="276.5" width="59" height="10"/><text class="l" x="2107.5" y="282.85">LIST OF FRIENDS</text></g>
<g id="p3-leaf-host-new-game"><rect class="lf" x="2078" y="310.7" width="59" height="10"/><text class="l" x="2107.5" y="317.05">8x DIFFICULTIES</text></g>
<g id="p3-leaf-matchmaking"><rect class="lf" x="2078" y="345" width="59" height="10"/><text class="l" x="2107.5" y="351.35">LIST OF CAMPAIGNS</text></g>
<g id="p3-leaf-challenge"><rect class="lf" x="2173" y="379.3" width="59" height="10"/><text class="l" x="2202.5" y="385.65">8x CHALLENGE OPTIONS</text></g>
<g id="p3-leaf-aim-assist"><rect class="lf" x="2173" y="400.3" width="59" height="10"/><text class="l" x="2202.5" y="406.65">3x AIM ASSIST OPTIONS</text></g>
<g id="p3-leaf-coop-settings"><rect class="lf" x="2173" y="434" width="59" height="10"/><text class="l" x="2202.5" y="440.35">4x CO-OP SETTINGS</text></g>
<g id="p3-leaf-window-focus"><rect class="gn" x="2173" y="474.3" width="59" height="10"/><path class="blg" d="M2175 479.3H2230"/><path class="note" d="M2237 475.6H2260M2237 478H2252M2237 480.6H2256M2237 483.3H2248"/></g>
<g id="p3-leaf-tutorial"><rect class="lf" x="2078" y="503" width="59" height="10"/><text class="l" x="2107.5" y="509.35">3x TUTORIAL OPTIONS</text></g>
<g id="p3-leaf-auto-ramp"><rect class="lf" x="2078" y="525.7" width="59" height="10"/><text class="l" x="2107.5" y="532.05">1x AUTO RAMP OPTION</text></g>
<g id="p3-leaf-controller-layouts"><rect class="gn" x="2173" y="576.7" width="59" height="10"/><text class="lw" x="2202.5" y="583.05">4x CONTROLLER LAYOUTS</text><path class="wl" d="M2237 581.5H2250"/></g>
<g id="p3-kb-1"><rect class="gn" x="2173" y="621" width="59" height="10"/><text class="lw" x="2202.5" y="627.35">3x GENERAL BINDINGS</text></g>
<g id="p3-kb-2"><rect class="gn" x="2173" y="642.3" width="59" height="10"/><text class="lw" x="2202.5" y="648.65">33x ON FOOT BINDINGS</text></g>
<g id="p3-kb-3"><rect class="gn" x="2173" y="663.6" width="59" height="10"/><text class="lw" x="2202.5" y="669.95">4x SKILL BINDINGS</text></g>
<g id="p3-kb-4"><rect class="gn" x="2173" y="684.9" width="59" height="10"/><text class="lw" x="2202.5" y="691.25">17x VEHICLE BINDINGS</text></g>
<g id="p3-kb-5"><rect class="gn" x="2173" y="706.2" width="59" height="10"/><text class="lw" x="2202.5" y="712.55">8x TANK BINDINGS</text></g>
<g id="p3-kb-6"><rect class="gn" x="2173" y="727.5" width="59" height="10"/><text class="lw" x="2202.5" y="733.85">10x WINGSUIT BINDINGS</text></g>
<g id="p3-kb-7"><rect class="gn" x="2173" y="748.8" width="59" height="10"/><path class="blg" d="M2179 753.8H2226"/></g>
<g id="p3-kb-8"><rect class="gn" x="2173" y="770.1" width="59" height="10"/><text class="lw" x="2202.5" y="776.45">3x HELICOPTER BINDINGS</text></g>
<g id="p3-kb-9"><rect class="gn" x="2173" y="791.4" width="59" height="10"/><path class="blg" d="M2175 796.4H2230"/></g>
<g id="p3-kb-10"><rect class="gn" x="2173" y="812.7" width="59" height="10"/><path class="blg" d="M2178 817.7H2227"/></g>
<g id="p3-leaf-mouse-settings"><rect class="gn" x="2173" y="853.3" width="59" height="10"/><text class="lw" x="2202.5" y="859.65">3x MOUSE SETTINGS</text><path class="note" d="M2239 856H2257M2239 858.5H2252"/></g>
<g id="p3-cc-1"><rect class="gn" x="2173" y="896.3" width="59" height="10"/><text class="lw" x="2202.5" y="902.65">1x GENERAL BINDINGS</text></g>
<g id="p3-cc-2"><rect class="gn" x="2173" y="917.6" width="59" height="10"/><text class="lw" x="2202.5" y="923.95">20x ON FOOT BINDINGS</text></g>
<g id="p3-cc-3"><rect class="gn" x="2173" y="938.9" width="59" height="10"/><text class="lw" x="2202.5" y="945.25">4x SKILL BINDINGS</text></g>
<g id="p3-cc-4"><rect class="gn" x="2173" y="960.2" width="59" height="10"/><text class="lw" x="2202.5" y="966.55">16x VEHICLE BINDINGS</text></g>
<g id="p3-cc-5"><rect class="gn" x="2173" y="981.5" width="59" height="10"/><text class="lw" x="2202.5" y="987.85">3x TANK BINDINGS</text></g>
<g id="p3-cc-6"><rect class="gn" x="2173" y="1002.8" width="59" height="10"/><text class="lw" x="2202.5" y="1009.15">8x WINGSUIT BINDINGS</text></g>
<g id="p3-cc-7"><rect class="gn" x="2173" y="1024.1" width="59" height="11"/><text class="lw s" x="2202.5" y="1028.8">8x AERIAL VEHICLE</text><text class="lw s" x="2202.5" y="1033">BINDINGS</text></g>
<g id="p3-cc-8"><rect class="gn" x="2173" y="1045.4" width="59" height="10"/><text class="lw" x="2202.5" y="1051.75">3x HELICOPTER BINDINGS</text></g>
<g id="p3-cc-9"><rect class="gn" x="2173" y="1066.7" width="59" height="10"/><path class="blg" d="M2175 1071.7H2230"/></g>
<path class="wl" d="M2238.5 621V823M2238.5 896V1080" stroke-width="1.5"/>
</svg>
